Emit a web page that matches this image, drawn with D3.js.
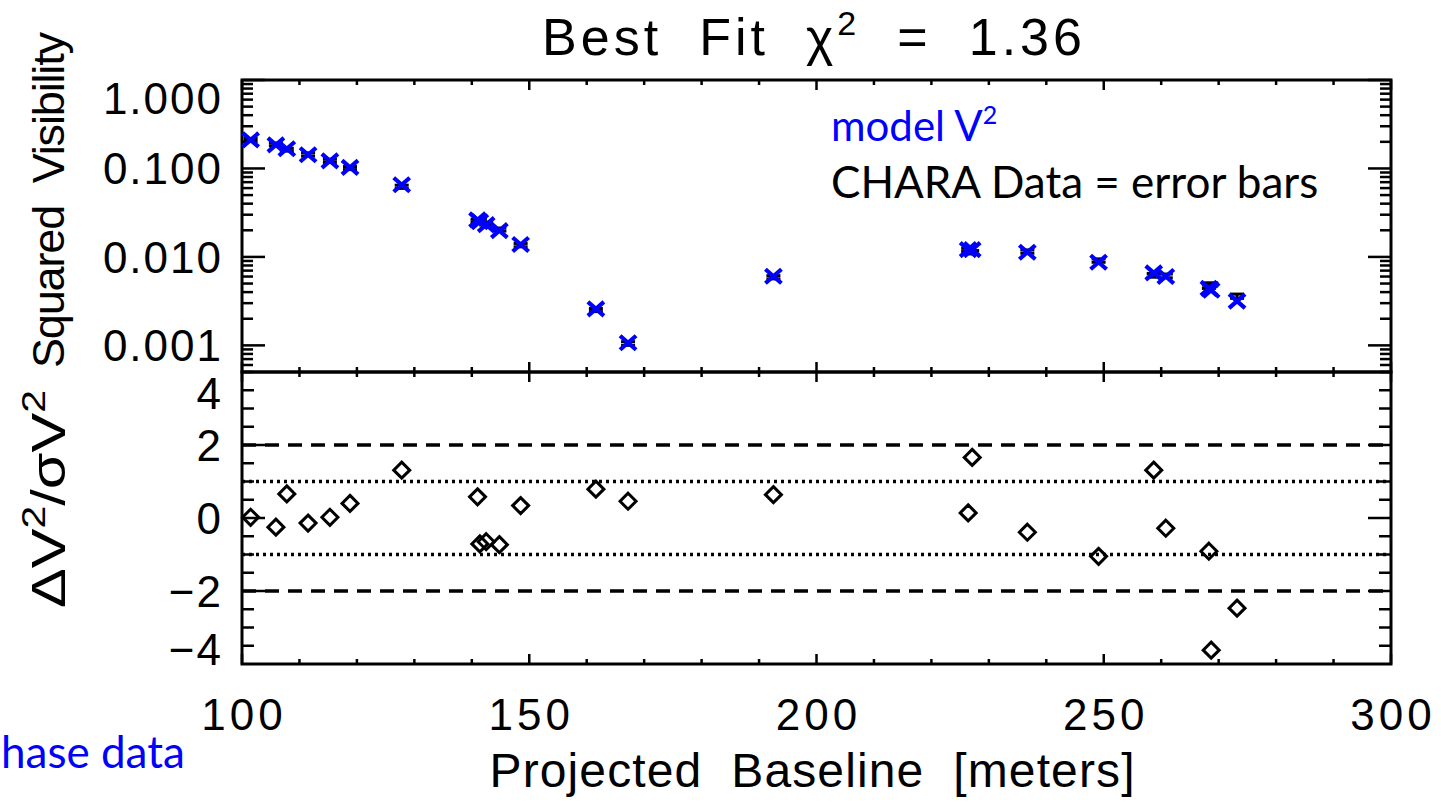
<!DOCTYPE html>
<html>
<head>
<meta charset="utf-8">
<script src="https://cdn.jsdelivr.net/npm/d3@7"></script>
<style>
  body { margin: 0; background: #fff; }
  text { white-space: pre; }
</style>
</head>
<body>
<svg id="chart" width="1441" height="802"></svg>
<script>
// Projected baseline of each observation [m]
const baseline = [101.5, 105.9, 107.8, 111.5, 115.3, 118.8, 127.8,
  141.0, 141.4, 142.5, 144.8, 148.5, 161.6, 167.2, 192.5,
  226.4, 227.1, 236.7, 249.1, 258.7, 260.8, 268.3, 268.7, 273.2];
// Best-fit model squared visibility
const modelV2 = [0.210, 0.185, 0.167, 0.143, 0.122, 0.103, 0.0655,
  0.0262, 0.0250, 0.0232, 0.0198, 0.0138, 0.00259, 0.00107, 0.00605,
  0.0121, 0.0121, 0.0113, 0.0087, 0.0066, 0.0060, 0.0044, 0.0042, 0.00316];
// CHARA measured squared visibility and its 1-sigma error
const dataV2 = [0.210, 0.187, 0.163, 0.144, 0.122, 0.101, 0.0621,
  0.0256, 0.0257, 0.0238, 0.0204, 0.0136, 0.00251, 0.00105, 0.00589,
  0.0120, 0.0113, 0.0115, 0.0091, 0.0062, 0.0061, 0.0046, 0.0049, 0.0036];
const dataErr = [0.008, 0.007, 0.006, 0.006, 0.005, 0.004, 0.0026,
  0.0010, 0.0010, 0.0009, 0.0008, 0.0006, 0.00010, 0.00005, 0.00025,
  0.0005, 0.0005, 0.0005, 0.0004, 0.0003, 0.0003, 0.0002, 0.0002, 0.0002];
// Normalised residuals  dV^2 / sigma
const residual = [0.02, -0.25, 0.66, -0.14, 0.02, 0.40, 1.31,
  0.58, -0.71, -0.65, -0.73, 0.34, 0.79, 0.46, 0.64,
  0.14, 1.66, -0.39, -1.05, 1.31, -0.28, -0.91, -3.62, -2.47];

const xTickValues = [100, 150, 200, 250, 300];
const visTickValues = [1, 0.1, 0.01, 0.001];
const residTickValues = [4, 2, 0, -2, -4];
const sigma2Lines = [2, -2];
const sigma1Lines = [1, -1];

const W = 1441, H = 802;
const left = 242, right = 1391, top1 = 80, mid = 372, bottom = 664;
const BLUE = "#0000ff";
const IDL_FONT = "'Liberation Sans', Arial, sans-serif";
const NOTE_FONT = "Lato, 'Open Sans', sans-serif";

const svg = d3.select("#chart");
svg.append("rect").attr("width", W).attr("height", H).attr("fill", "#fff");

const x = d3.scaleLinear().domain([100, 300]).range([left, right]);
const yV = d3.scaleLog().domain([0.0005, 1]).range([mid, top1]);
const yR = d3.scaleLinear().domain([-4, 4]).range([bottom, mid]);

// ---------- tick helpers ----------
function hTicks(g, values, y0, len) {
  g.selectAll(null).data(values).join("line")
    .attr("x1", d => x(d)).attr("x2", d => x(d))
    .attr("y1", y0).attr("y2", y0 + len)
    .attr("stroke", "#000").attr("stroke-width", 2.5);
}
function vTicks(g, values, scale, x0, len) {
  g.selectAll(null).data(values).join("line")
    .attr("x1", x0).attr("x2", x0 + len)
    .attr("y1", d => scale(d)).attr("y2", d => scale(d))
    .attr("stroke", "#000").attr("stroke-width", 2.5);
}

const xMinor = d3.range(100, 301, 10).filter(v => v % 50 !== 0);
const visMinor = [];
for (let e = -4; e < 0; e++) {
  for (let k = 2; k <= 9; k++) {
    const v = k * Math.pow(10, e);
    if (v >= 0.0005 && v < 1) visMinor.push(v);
  }
}
const residMinor = d3.range(-3.5, 4, 0.5).filter(v => ![-2, 0, 2].includes(v));
const residMajor = [-2, 0, 2];

const axes = svg.append("g");
// top panel x ticks
hTicks(axes, xTickValues, top1, 10);
hTicks(axes, xMinor, top1, 5);
hTicks(axes, xTickValues, mid, -10);
hTicks(axes, xMinor, mid, -5);
// bottom panel x ticks
hTicks(axes, xTickValues, mid, 10);
hTicks(axes, xMinor, mid, 5);
hTicks(axes, xTickValues, bottom, -10);
hTicks(axes, xMinor, bottom, -5);
// top panel y ticks (log)
vTicks(axes, visTickValues, yV, left, 23);
vTicks(axes, visMinor, yV, left, 11);
vTicks(axes, visTickValues, yV, right, -23);
vTicks(axes, visMinor, yV, right, -11);
// bottom panel y ticks
vTicks(axes, residMajor, yR, left, 23);
vTicks(axes, residMinor, yR, left, 12);
vTicks(axes, residMajor, yR, right, -23);
vTicks(axes, residMinor, yR, right, -12);

// ---------- reference lines in the residual panel ----------
const refs = svg.append("g");
refs.selectAll(null).data(sigma2Lines).join("line")
  .attr("x1", left).attr("x2", right)
  .attr("y1", d => yR(d)).attr("y2", d => yR(d))
  .attr("stroke", "#000").attr("stroke-width", 3.5)
  .attr("stroke-dasharray", "14 9");
refs.selectAll(null).data(sigma1Lines).join("line")
  .attr("x1", left).attr("x2", right)
  .attr("y1", d => yR(d)).attr("y2", d => yR(d))
  .attr("stroke", "#000").attr("stroke-width", 3.5)
  .attr("stroke-dasharray", "3 4");

// ---------- frames ----------
svg.append("rect").attr("x", left).attr("y", top1)
  .attr("width", right - left).attr("height", mid - top1)
  .attr("fill", "none").attr("stroke", "#000").attr("stroke-width", 3);
svg.append("rect").attr("x", left).attr("y", mid)
  .attr("width", right - left).attr("height", bottom - mid)
  .attr("fill", "none").attr("stroke", "#000").attr("stroke-width", 3);

// ---------- visibility data: error bars then model crosses ----------
const pts = baseline.map((b, i) => ({
  b, model: modelV2[i], v: dataV2[i], e: dataErr[i], r: residual[i]
}));

const eb = svg.append("g").attr("stroke", "#000").attr("stroke-width", 3);
const capW = 7;
pts.forEach(p => {
  const cx = x(p.b), yHi = yV(p.v + p.e), yLo = yV(p.v - p.e);
  eb.append("line").attr("x1", cx).attr("x2", cx).attr("y1", yHi).attr("y2", yLo);
  eb.append("line").attr("x1", cx - capW).attr("x2", cx + capW).attr("y1", yHi).attr("y2", yHi);
  eb.append("line").attr("x1", cx - capW).attr("x2", cx + capW).attr("y1", yLo).attr("y2", yLo);
});

svg.append("g").selectAll("path").data(pts).join("path")
  .attr("transform", d => `translate(${x(d.b)},${yV(d.model)})`)
  .attr("d", "M-8,-7L8,7M-8,7L8,-7")
  .attr("fill", "none").attr("stroke", BLUE).attr("stroke-width", 4.2);

// ---------- residual diamonds ----------
svg.append("g").selectAll("path").data(pts).join("path")
  .attr("transform", d => `translate(${x(d.b)},${yR(d.r)})`)
  .attr("d", "M0,-8L8,0L0,8L-8,0Z")
  .attr("fill", "none").attr("stroke", "#000").attr("stroke-width", 3);

// ---------- tick labels ----------
const labels = svg.append("g").attr("font-family", IDL_FONT).attr("fill", "#000");
const fmtVis = d3.format(".3f");
const fmtRes = d3.format("d");
// labels sitting on a frame edge are tucked inside the panel
const tuck = (py, lo, hi, down) => (py <= lo + 1 ? down : (py >= hi - 1 ? -15 : 0));

labels.selectAll(null).data(visTickValues).join("text")
  .attr("x", 223).attr("y", d => yV(d) + tuck(yV(d), top1, mid, 18))
  .attr("dy", "0.36em").attr("text-anchor", "end")
  .attr("font-size", 44).attr("letter-spacing", 2)
  .text(d => fmtVis(d));

labels.selectAll(null).data(residTickValues).join("text")
  .attr("x", 223).attr("y", d => yR(d) + tuck(yR(d), mid, bottom, 21))
  .attr("dy", "0.36em").attr("text-anchor", "end")
  .attr("font-size", 44).attr("letter-spacing", 2)
  .text(d => fmtRes(d));

labels.selectAll(null).data(xTickValues).join("text")
  .attr("x", d => x(d) + 2).attr("y", 730)
  .attr("text-anchor", "middle")
  .attr("font-size", 44).attr("letter-spacing", 4)
  .text(d => d);

// ---------- titles ----------
const title = svg.append("text")
  .attr("x", 812).attr("y", 55).attr("text-anchor", "middle")
  .attr("font-family", IDL_FONT).attr("font-size", 52)
  .attr("textLength", 540).attr("lengthAdjust", "spacing");
title.append("tspan").text("Best  Fit  \u03c7");
title.append("tspan").attr("dy", -20).attr("font-size", 34).text("2");
title.append("tspan").attr("dy", 20).text("  =  1.36");

svg.append("text")
  .attr("x", 812).attr("y", 787).attr("text-anchor", "middle")
  .attr("font-family", IDL_FONT).attr("font-size", 48)
  .attr("textLength", 645).attr("lengthAdjust", "spacing")
  .text("Projected  Baseline  [meters]");

svg.append("text")
  .attr("transform", "translate(64,200) rotate(-90)")
  .attr("text-anchor", "middle")
  .attr("font-family", IDL_FONT).attr("font-size", 45)
  .attr("textLength", 336).attr("lengthAdjust", "spacing")
  .text("Squared  Visibility");

const resLab = svg.append("text")
  .attr("transform", "translate(65,499) rotate(-90)")
  .attr("text-anchor", "middle")
  .attr("font-family", IDL_FONT).attr("font-size", 48)
  .attr("textLength", 218).attr("lengthAdjust", "spacingAndGlyphs");
resLab.append("tspan").text("\u0394V");
resLab.append("tspan").attr("dy", -20).attr("font-size", 33).text("2");
resLab.append("tspan").attr("dy", 20).text("/\u03c3V");
resLab.append("tspan").attr("dy", -20).attr("font-size", 33).text("2");

// ---------- annotations ----------
const note1 = svg.append("text")
  .attr("x", 831).attr("y", 141)
  .attr("font-family", NOTE_FONT).attr("font-size", 42).attr("fill", BLUE);
note1.append("tspan").text("model V");
note1.append("tspan").attr("dy", -17).attr("font-size", 25).text("2");

svg.append("text")
  .attr("x", 831).attr("y", 198)
  .attr("font-family", NOTE_FONT).attr("font-size", 44).attr("fill", "#000")
  .text("CHARA Data = error bars");

svg.append("text")
  .attr("x", 1).attr("y", 768)
  .attr("font-family", NOTE_FONT).attr("font-size", 44).attr("fill", BLUE)
  .text("hase data");
</script>
</body>
</html>
